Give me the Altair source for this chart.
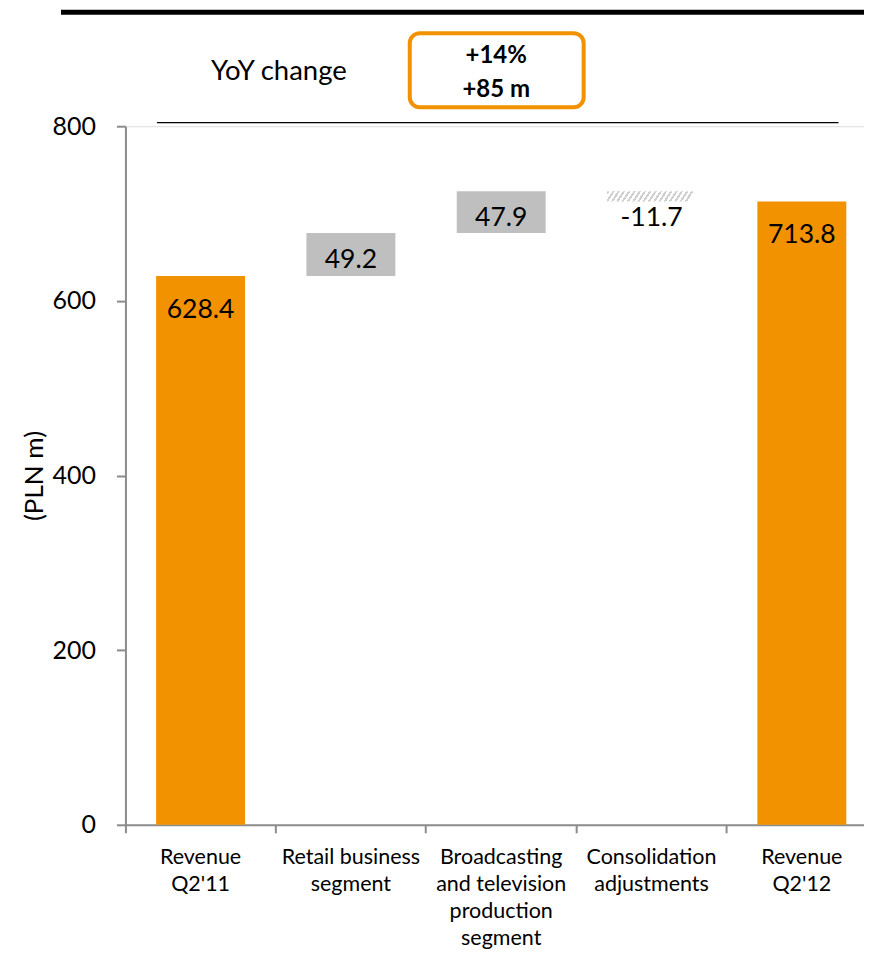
import altair as alt
import pandas as pd

# ---------------- data ----------------
categories = ["Revenue|Q2'11", "Retail business|segment",
              "Broadcasting|and television|production|segment",
              "Consolidation|adjustments", "Revenue|Q2'12"]
values = [628.4, 49.2, 47.9, -11.7, 713.8]
kinds = ["total", "delta", "delta", "delta", "total"]
y_ticks = [0, 200, 400, 600, 800]
y_title = "(PLN m)"
yoy_label = ["YoY change"]
yoy_lines = ["+14%", "+85 m"]

rows = []
running = 0.0
for c, v, k in zip(categories, values, kinds):
    if k == "total":
        start, end = 0.0, v
    else:
        start, end = running, running + v
    running = end
    kind = k if (k == "total" or v >= 0) else "neg"
    rows.append(dict(cat=c, low=min(start, end), high=max(start, end),
                     end=end, label=f"{v:.1f}", kind=kind))
df = pd.DataFrame(rows)

# ---------------- styles ----------------
ORANGE = "#F39200"
GREY_BAR = "#BFBFBF"
AXIS_GREY = "#8C8C8C"
FONT = "Lato"

x_enc = alt.X("cat:N", sort=categories,
              scale=alt.Scale(range=[0, 752], paddingInner=0, paddingOuter=0),
              axis=alt.Axis(title=None, labelAngle=0,
                            labelExpr="split(datum.label, '|')",
                            labelFontSize=21.5, labelLineHeight=27,
                            labelColor="black", labelPadding=14,
                            labelBaseline="top", labelLimit=300,
                            tickSize=8, tickColor=AXIS_GREY, tickWidth=2,
                            domainColor=AXIS_GREY, domainWidth=2,
                            bandPosition=0))
y_enc = alt.Y("high:Q", scale=alt.Scale(domain=[0, 800]),
              axis=alt.Axis(values=y_ticks, title=y_title, titleFontSize=26,
                            titleFontWeight="normal", titleColor="black",
                            titlePadding=4, labelFontSize=25, labelPadding=21,
                            labelColor="black", tickSize=9,
                            tickColor=AXIS_GREY, tickWidth=2,
                            domainColor=AXIS_GREY, domainWidth=2, grid=False))

base = alt.Chart(df).encode(x=x_enc, y=y_enc, y2="low:Q")

totals = base.mark_bar(size=89, color=ORANGE).transform_filter("datum.kind == 'total'")
deltas = base.mark_bar(size=89, color=GREY_BAR).transform_filter("datum.kind == 'delta'")

n_stripes = 17
stops = []
for i in range(n_stripes):
    a = i / n_stripes
    b = (i + 0.45) / n_stripes
    c = (i + 1) / n_stripes
    stops += [alt.GradientStop(offset=a, color="#CFCFCF"),
              alt.GradientStop(offset=b, color="#CFCFCF"),
              alt.GradientStop(offset=b, color="#FFFFFF"),
              alt.GradientStop(offset=c, color="#FFFFFF")]
hatch = alt.LinearGradient(gradient="linear", stops=stops, x1=0, y1=0, x2=1, y2=0.075)
negs = base.mark_bar(size=89, fill=hatch).transform_filter("datum.kind == 'neg'")

txt_total = base.mark_text(dy=42, baseline="alphabetic", fontSize=26.5, font=FONT,
                           color="black").encode(text="label:N").transform_filter("datum.kind == 'total'")
txt_delta = base.mark_text(dy=35, baseline="alphabetic", fontSize=26.5, font=FONT,
                           color="black").encode(text="label:N").transform_filter("datum.kind == 'delta'")
txt_neg = alt.Chart(df).mark_text(dy=25, baseline="alphabetic", fontSize=26.5, font=FONT,
                                  color="black").encode(
    x=alt.X("cat:N", sort=categories), y=alt.Y("end:Q"), text="label:N"
).transform_filter("datum.kind == 'neg'")

one = alt.Data(values=[{"a": 1}])
top_rule = alt.Chart(one).mark_rule(color="black", strokeWidth=5).encode(
    x=alt.value(-64.5), x2=alt.value(760), y=alt.value(-114))
thin_rule = alt.Chart(one).mark_rule(color="black", strokeWidth=1.3).encode(
    x=alt.value(31.5), x2=alt.value(713.5), y=alt.value(-3.5))
yoy_text = alt.Chart(alt.Data(values=[{"t": yoy_label[0]}])).mark_text(
    fontSize=27.5, font=FONT, color="black", baseline="alphabetic").encode(
    x=alt.value(153.5), y=alt.value(-46), text="t:N")
box = alt.Chart(one).mark_rect(cornerRadius=10, stroke=ORANGE, strokeWidth=4,
                               fill="white").encode(
    x=alt.value(284.5), x2=alt.value(458.5), y=alt.value(-93), y2=alt.value(-19))
box_l1 = alt.Chart(alt.Data(values=[{"t": yoy_lines[0]}])).mark_text(
    fontSize=24, font=FONT, fontWeight="bold", color="black", baseline="alphabetic").encode(
    x=alt.value(371), y=alt.value(-63), text="t:N")
box_l2 = alt.Chart(alt.Data(values=[{"t": yoy_lines[1]}])).mark_text(
    fontSize=24, font=FONT, fontWeight="bold", color="black", baseline="alphabetic").encode(
    x=alt.value(371), y=alt.value(-29), text="t:N")

chart = alt.layer(totals, deltas, negs, txt_total, txt_delta, txt_neg,
                  thin_rule, top_rule, yoy_text, box, box_l1, box_l2).properties(
    width=739, height=699,
    padding={"left": 117.5, "top": 118, "right": 0, "bottom": 129},
    autosize=alt.AutoSizeParams(type="none"),
).configure_view(strokeWidth=0).configure(font=FONT)

chart.save("out.html", embed_options={"renderer": "svg", "actions": False})
